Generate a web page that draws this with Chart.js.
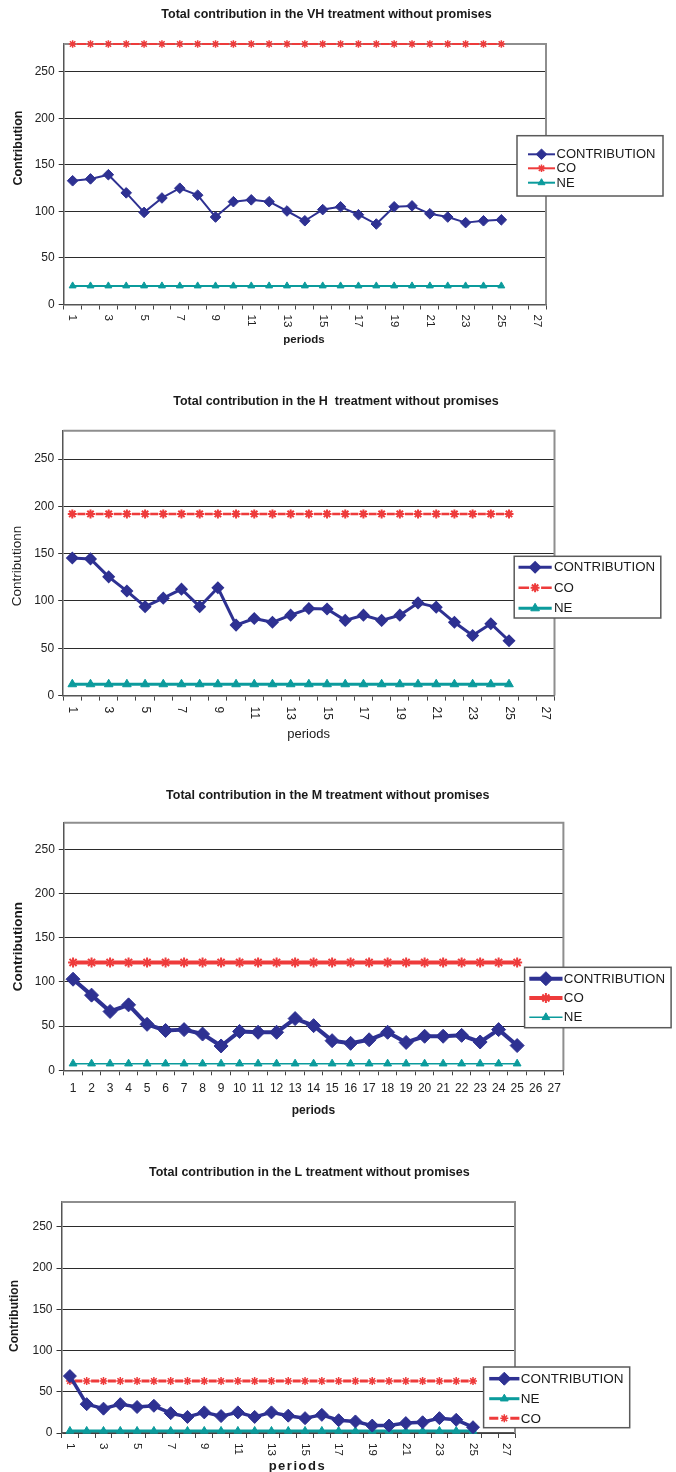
<!DOCTYPE html>
<html>
<head>
<meta charset="utf-8">
<script src="https://cdn.jsdelivr.net/npm/chart.js@4.4.1/dist/chart.umd.min.js"></script>
<style>
  html, body { margin: 0; padding: 0; background: #ffffff; }
  body { width: 676px; height: 1472px; position: relative; overflow: hidden; }
  canvas { position: absolute; left: 0; }
</style>
</head>
<body>
<canvas id="chartVH"></canvas>
<canvas id="chartH"></canvas>
<canvas id="chartM"></canvas>
<canvas id="chartL"></canvas>
<script>
// ---- data ----
const PERIODS = ['1','2','3','4','5','6','7','8','9','10','11','12','13','14','15','16','17','18','19','20','21','22','23','24','25','26','27'];
const Y_TICKS = [0, 50, 100, 150, 200, 250];
const Y_MAX = 280;

const VH_CONTRIBUTION = [133, 135, 139.5, 120, 99, 114.5, 125, 117.5, 94, 110.5, 112.5, 110.5, 100.5, 90, 102, 105, 96.5, 86.5, 105, 106, 97.5, 94, 88, 90, 91];
const VH_CO = [280, 280, 280, 280, 280, 280, 280, 280, 280, 280, 280, 280, 280, 280, 280, 280, 280, 280, 280, 280, 280, 280, 280, 280, 280];
const VH_NE = [20, 20, 20, 20, 20, 20, 20, 20, 20, 20, 20, 20, 20, 20, 20, 20, 20, 20, 20, 20, 20, 20, 20, 20, 20];

const H_CONTRIBUTION = [145.5, 144.5, 125.5, 110.5, 94, 103, 112.5, 94, 114, 74.5, 81.5, 77.5, 85, 92, 91.5, 79.5, 85, 79.5, 85, 98, 93.5, 77.5, 63.5, 76, 58];
const H_CO = [192, 192, 192, 192, 192, 192, 192, 192, 192, 192, 192, 192, 192, 192, 192, 192, 192, 192, 192, 192, 192, 192, 192, 192, 192];
const H_NE = [12, 12, 12, 12, 12, 12, 12, 12, 12, 12, 12, 12, 12, 12, 12, 12, 12, 12, 12, 12, 12, 12, 12, 12, 12];

const M_CONTRIBUTION = [103, 85, 66.5, 74, 52, 45, 46, 41, 27.5, 44, 43, 43, 58.5, 50.5, 33.5, 30.5, 34.5, 43, 31.5, 38.5, 38.5, 39.5, 32, 46, 28];
const M_CO = [122, 122, 122, 122, 122, 122, 122, 122, 122, 122, 122, 122, 122, 122, 122, 122, 122, 122, 122, 122, 122, 122, 122, 122, 122];
const M_NE = [7.5, 7.5, 7.5, 7.5, 7.5, 7.5, 7.5, 7.5, 7.5, 7.5, 7.5, 7.5, 7.5, 7.5, 7.5, 7.5, 7.5, 7.5, 7.5, 7.5, 7.5, 7.5, 7.5, 7.5, 7.5];

const L_CONTRIBUTION = [69, 35, 29.5, 35, 31.5, 33, 24, 19.5, 25, 20.5, 25, 19.5, 25, 21, 18, 22, 15.5, 14, 9, 9, 12, 13, 18, 16, 7];
const L_CO = [63, 63, 63, 63, 63, 63, 63, 63, 63, 63, 63, 63, 63, 63, 63, 63, 63, 63, 63, 63, 63, 63, 63, 63, 63];
const L_NE = [2.5, 2.5, 2.5, 2.5, 2.5, 2.5, 2.5, 2.5, 2.5, 2.5, 2.5, 2.5, 2.5, 2.5, 2.5, 2.5, 2.5, 2.5, 2.5, 2.5, 2.5, 2.5, 2.5, 2.5, 2.5];

// ---- styling ----
const FAMILY = "'Liberation Sans', Arial, Helvetica, sans-serif";
const NAVY = '#2e3192';
const RED = '#ee3b3b';
const TEAL = '#0b9b9c';
const INK = '#1a1a1a';

Chart.defaults.font.family = FAMILY;
Chart.defaults.color = INK;

// Draws headings, axis titles, rotated period labels, the grey plot frame and the legend box.
const decor = {
  id: 'decor',
  beforeDatasetsDraw(chart, args, o) {
    const { ctx, chartArea: a } = chart;
    ctx.save();
    ctx.strokeStyle = '#8e8e8e';
    ctx.lineWidth = 2;
    ctx.beginPath();
    ctx.moveTo(a.left, a.top);
    ctx.lineTo(a.right, a.top);
    ctx.lineTo(a.right, a.bottom);
    ctx.stroke();
    ctx.restore();
  },
  afterDraw(chart, args, o) {
    const { ctx, chartArea: a } = chart;
    const dy = o.offsetY;
    const put = (str, x, y, font, rot, spacing) => {
      ctx.save();
      ctx.font = font;
      ctx.fillStyle = INK;
      ctx.textAlign = 'center';
      ctx.textBaseline = 'middle';
      if (spacing) ctx.letterSpacing = spacing;
      ctx.translate(x, y - dy);
      if (rot) ctx.rotate(rot);
      ctx.fillText(str, 0, 0);
      ctx.restore();
    };
    put(o.heading.text, o.heading.x, o.heading.y, o.heading.font, 0);
    put(o.yLabel.text, o.yLabel.x, o.yLabel.y, o.yLabel.font, -Math.PI / 2);
    put(o.xLabel.text, o.xLabel.x, o.xLabel.y, o.xLabel.font, 0, o.xLabel.spacing);

    // period labels turned a quarter turn, every second one
    if (o.rotated) {
      const xs = chart.scales.x;
      ctx.save();
      ctx.font = o.rotatedFont;
      ctx.fillStyle = '#222';
      ctx.textAlign = 'left';
      ctx.textBaseline = 'middle';
      PERIODS.forEach((lab, i) => {
        if (i % 2 !== 0) return;
        const x = xs.getPixelForTick(i);
        ctx.save();
        ctx.translate(x, a.bottom + o.rotatedGap);
        ctx.rotate(Math.PI / 2);
        ctx.fillText(lab, 0, 0);
        ctx.restore();
      });
      ctx.restore();
    }

    // legend
    const b = o.legendBox;
    ctx.save();
    ctx.fillStyle = '#ffffff';
    ctx.fillRect(b.l, b.t - dy, b.r - b.l, b.b - b.t);
    ctx.strokeStyle = '#5a5a5a';
    ctx.lineWidth = 1.5;
    ctx.strokeRect(b.l, b.t - dy, b.r - b.l, b.b - b.t);
    chart.data.datasets.forEach((ds, i) => {
      const y = o.legendRows[i] - dy;
      const x0 = o.legendSample[0], x1 = o.legendSample[1];
      const cx = (x0 + x1) / 2;
      const gap = (o.legendGaps && o.legendGaps[i]) || 0;
      ctx.strokeStyle = ds.borderColor;
      ctx.fillStyle = ds.borderColor;
      ctx.lineWidth = ds.borderWidth;
      ctx.setLineDash([]);
      ctx.beginPath();
      if (gap > 0) {
        ctx.moveTo(x0, y); ctx.lineTo(cx - gap, y);
        ctx.moveTo(cx + gap, y); ctx.lineTo(x1, y);
      } else {
        ctx.moveTo(x0, y); ctx.lineTo(x1, y);
      }
      ctx.stroke();
      ctx.lineWidth = ds.pointBorderWidth;
      Chart.helpers.drawPoint(ctx, {
        pointStyle: ds.pointStyle,
        radius: ds.pointRadius,
        borderWidth: ds.pointBorderWidth,
        rotation: 0
      }, cx, y);
      ctx.fillStyle = INK;
      ctx.font = o.legendFont;
      ctx.textAlign = 'left';
      ctx.textBaseline = 'middle';
      ctx.fillText(ds.label, o.legendText, y + 0.5);
    });
    ctx.restore();
  }
};

function makeDataset(s) {
  const dash = s.dash || [];
  return {
    label: s.label,
    data: s.values,
    borderColor: s.color,
    backgroundColor: s.color,
    borderWidth: s.width,
    borderDash: dash,
    borderDashOffset: dash.length ? dash[0] + dash[1] / 2 : 0,
    borderJoinStyle: 'round',
    pointStyle: s.marker,
    pointRadius: s.radius,
    pointBorderWidth: s.pointBorder,
    pointBackgroundColor: s.color,
    pointBorderColor: s.color,
    tension: 0,
    fill: false,
    clip: false
  };
}

function buildChart(id, spec) {
  const cv = document.getElementById(id);
  cv.width = 676;
  cv.height = spec.height;
  cv.style.width = '676px';
  cv.style.height = spec.height + 'px';
  cv.style.top = spec.top + 'px';
  const a = spec.area;
  const areaBottom = a.bottom - spec.top;

  return new Chart(cv, {
    type: 'line',
    data: { labels: PERIODS, datasets: spec.series.map(makeDataset) },
    options: {
      responsive: false,
      animation: false,
      events: [],
      devicePixelRatio: 1,
      layout: { padding: { left: 0, top: a.top - spec.top, right: 676 - a.right, bottom: 0 } },
      scales: {
        x: {
          type: 'category',
          offset: true,
          grid: { offset: true, drawOnChartArea: false, drawTicks: true, tickLength: 5, color: '#444', lineWidth: 1 },
          border: { color: '#555', width: 1.5 },
          ticks: {
            display: !spec.rotated,
            autoSkip: false,
            maxRotation: 0,
            minRotation: 0,
            padding: 6,
            color: '#222',
            font: { size: 12, family: FAMILY }
          },
          afterFit(scale) { scale.height = spec.height - areaBottom; }
        },
        y: {
          min: Y_TICKS[0],
          max: Y_MAX,
          afterBuildTicks(scale) { scale.ticks = Y_TICKS.map(v => ({ value: v })); },
          grid: { color: '#2b2b2b', lineWidth: 1, tickLength: 5, tickColor: '#333' },
          border: { color: '#555', width: 1.5 },
          ticks: { padding: 4, color: '#222', font: { size: 12, family: FAMILY } },
          afterFit(scale) { scale.width = a.left; }
        }
      },
      plugins: {
        legend: { display: false },
        tooltip: { enabled: false },
        decor: Object.assign({ offsetY: spec.top }, spec.decor)
      }
    },
    plugins: [decor]
  });
}

// ---- VH ----
buildChart('chartVH', {
  top: 0, height: 372,
  area: { left: 63.7, right: 546, top: 44, bottom: 304.5 },
  rotated: true,
  series: [
    { label: 'CONTRIBUTION', values: VH_CONTRIBUTION, color: NAVY, width: 2, marker: 'rectRot', radius: 5.3, pointBorder: 1 },
    { label: 'CO', values: VH_CO, color: RED, width: 2, dash: [9, 8.86], marker: 'star', radius: 3.8, pointBorder: 1.5 },
    { label: 'NE', values: VH_NE, color: TEAL, width: 2, marker: 'triangle', radius: 4, pointBorder: 1 }
  ],
  decor: {
    heading: { text: 'Total contribution in the VH treatment without promises', x: 326.5, y: 15, font: 'bold 12.5px ' + FAMILY },
    yLabel: { text: 'Contribution', x: 18.5, y: 148, font: 'bold 12.5px ' + FAMILY },
    xLabel: { text: 'periods', x: 304, y: 340, font: 'bold 11.5px ' + FAMILY },
    rotated: true, rotatedFont: '11.5px ' + FAMILY, rotatedGap: 10,
    legendBox: { l: 517, t: 135.7, r: 663, b: 196 },
    legendRows: [154.3, 168.3, 182.7],
    legendSample: [528, 555],
    legendText: 556.5,
    legendFont: '13px ' + FAMILY
  }
});

// ---- H ----
buildChart('chartH', {
  top: 372, height: 384,
  area: { left: 63.2, right: 554.5, top: 430.7, bottom: 695.6 },
  rotated: true,
  series: [
    { label: 'CONTRIBUTION', values: H_CONTRIBUTION, color: NAVY, width: 3, marker: 'rectRot', radius: 5.5, pointBorder: 1.5 },
    { label: 'CO', values: H_CO, color: RED, width: 2.5, dash: [8, 10.2], marker: 'star', radius: 4.5, pointBorder: 2 },
    { label: 'NE', values: H_NE, color: TEAL, width: 3, marker: 'triangle', radius: 5, pointBorder: 1 }
  ],
  decor: {
    heading: { text: 'Total contribution in the H  treatment without promises', x: 336, y: 401.3, font: 'bold 12.5px ' + FAMILY },
    yLabel: { text: 'Contributionn', x: 17.2, y: 566, font: '13.5px ' + FAMILY },
    xLabel: { text: 'periods', x: 308.6, y: 734, font: '13px ' + FAMILY },
    rotated: true, rotatedFont: '12px ' + FAMILY, rotatedGap: 11,
    legendBox: { l: 514.2, t: 556.3, r: 660.8, b: 618 },
    legendRows: [567.3, 587.7, 608.3],
    legendSample: [518.5, 551.7],
    legendGaps: [0, 6, 0],
    legendText: 553.9,
    legendFont: '13.3px ' + FAMILY
  }
});

// ---- M ----
buildChart('chartM', {
  top: 756, height: 384,
  area: { left: 63.8, right: 563.4, top: 822.7, bottom: 1070.3 },
  rotated: false,
  series: [
    { label: 'CONTRIBUTION', values: M_CONTRIBUTION, color: NAVY, width: 4, marker: 'rectRot', radius: 7, pointBorder: 1 },
    { label: 'CO', values: M_CO, color: RED, width: 4, dash: [13, 5.5], marker: 'star', radius: 5, pointBorder: 2 },
    { label: 'NE', values: M_NE, color: TEAL, width: 1.5, marker: 'triangle', radius: 4.5, pointBorder: 1 }
  ],
  decor: {
    heading: { text: 'Total contribution in the M treatment without promises', x: 327.8, y: 795.3, font: 'bold 12.5px ' + FAMILY },
    yLabel: { text: 'Contributionn', x: 18, y: 946.7, font: 'bold 13.5px ' + FAMILY },
    xLabel: { text: 'periods', x: 313.4, y: 1111, font: 'bold 12px ' + FAMILY },
    rotated: false,
    legendBox: { l: 524.6, t: 967.3, r: 671.1, b: 1027.7 },
    legendRows: [978.7, 998, 1017.3],
    legendSample: [529.3, 562.5],
    legendText: 563.8,
    legendFont: '13.3px ' + FAMILY
  }
});

// ---- L ----
buildChart('chartL', {
  top: 1140, height: 332,
  area: { left: 61.5, right: 515, top: 1202, bottom: 1433 },
  rotated: true,
  series: [
    { label: 'CONTRIBUTION', values: L_CONTRIBUTION, color: NAVY, width: 3.5, marker: 'rectRot', radius: 6.5, pointBorder: 1 },
    { label: 'NE', values: L_NE, color: TEAL, width: 3, marker: 'triangle', radius: 4.5, pointBorder: 1 },
    { label: 'CO', values: L_CO, color: RED, width: 3, dash: [8, 8.8], marker: 'star', radius: 4, pointBorder: 1.5 }
  ],
  decor: {
    heading: { text: 'Total contribution in the L treatment without promises', x: 309.3, y: 1172.3, font: 'bold 12.5px ' + FAMILY },
    yLabel: { text: 'Contribution', x: 14.2, y: 1316, font: 'bold 12px ' + FAMILY },
    xLabel: { text: 'periods', x: 297.4, y: 1466.7, font: 'bold 13px ' + FAMILY, spacing: '1.5px' },
    rotated: true, rotatedFont: '11.5px ' + FAMILY, rotatedGap: 10,
    legendBox: { l: 483.6, t: 1367, r: 629.7, b: 1427.7 },
    legendRows: [1378.7, 1398.7, 1418.3],
    legendSample: [489.2, 519.4],
    legendGaps: [0, 0, 6],
    legendText: 520.7,
    legendFont: '13.5px ' + FAMILY
  }
});
</script>
</body>
</html>
